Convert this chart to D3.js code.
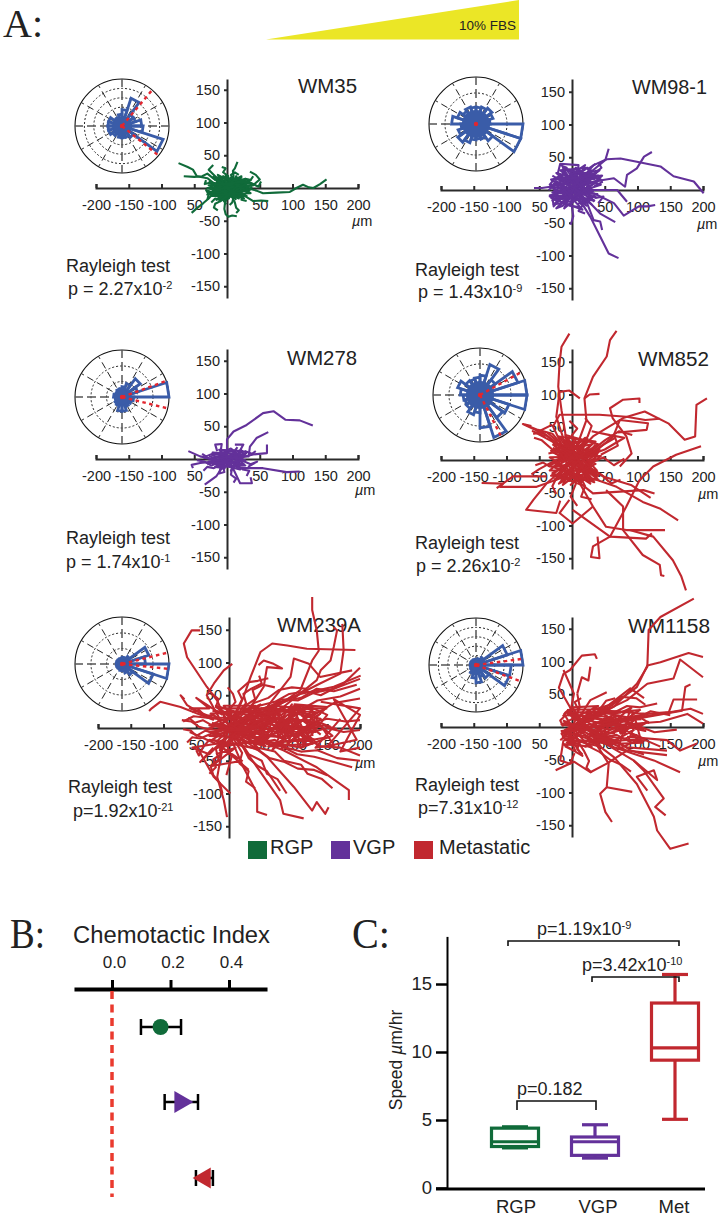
<!DOCTYPE html>
<html><head><meta charset="utf-8">
<script src="https://cdn.jsdelivr.net/npm/d3@7"></script>
<style>html,body{margin:0;padding:0;background:#fff}svg{display:block}text{font-family:"Liberation Sans",sans-serif;fill:#222}</style>
</head><body><svg id="c" width="720" height="1223"></svg>
<script>
// ---- data: cell tracks in micrometres, flat x,y lists ----
const wm35Tracks=[
[0,0,15,-2,30,0,45,-4,55,-8,75,-7,96,-6,106,0,116,5,125,1,132,0,142,6,152,13],
[0,0,-10,4,-21,8,-30,15,-46,18,-52,28,-60,32,-74,38],
[0,0,-8,8,-20,14,-30,22,-38,18,-50,17,-66,18],
[0,0,-12,-4,-21,-8,-28,-16,-36,-23,-45,-30,-54,-38],
[0,0,2,-12,-3,-22,-4,-32,-2,-40,2,-44,8,-42,15,-43],
[0,0,12,-4,20,-8,30,-14,40,-20,52,-19,63,-20],
[0,0,6,8,10,18,9,26,12,30,16,40],
[0,0,-6,6,-13,13,-20,20,-28,28,-24,32,-21,35],
[0,0,14,3,30,3,42,6,50,13,44,20,35,25],
[0,0,20,4,36,8,48,2,52,10],
[0,0,-14,-2,-24,-6,-32,-3,-28,-10,-30,-18],
[0,0,-5,-10,-10,-20,-18,-24,-20,-30,-14,-34],
[0,0,6,-10,12,-22,14,-30,18,-34,14,-38],
[0,0,10,8,22,6,28,14,36,12,40,18],
[0,0,-4,10,2,18,-6,24,-2,30,-8,32],
[0,0,-12,6,-18,2,-26,8,-34,6,-32,12],
[0,0,8,-6,18,-4,26,-10,22,-18,30,-20],
[0,0,-6,-6,-14,-10,-10,-18,-18,-16,-24,-22],
[0,0,4,4,12,-2,18,6,26,2,34,-4,38,2],
[0,0,-3,6,-10,2,-8,10,-16,8,-14,16,-20,12],
[0,0,5,-5,2,-12,10,-14,8,-22,4,-26],
[0,0,-8,-2,-14,4,-20,-2,-24,-8,-18,-12],
[0,0,6,6,2,12,10,14,6,20,12,24,18,20],
[4,2,-2,-4,6,-8,-4,-12,3,-16,-6,-18,-1,-25],
[-10,-8,-2,2,-14,6,-4,10,-16,12,-6,16,2,12,8,18],
[-20,-6,-8,2,-18,-12,-6,-4,-12,-18,4,-8,-2,-16,8,-12,14,-16],
[22,-6,10,2,24,8,14,-4,28,-4,18,10,6,-4,16,-12,24,-12],
[-24,2,-12,-6,-22,8,-8,4,-16,-10,4,6,-4,-6,12,10,2,-10,18,2],
[30,6,16,14,8,4,22,16,4,10,14,-8,26,12,32,-6,20,-14],
[-18,14,-6,8,-12,18,2,4,-2,20,8,8,14,18,20,8,30,14],
[-28,10,30,-12,-24,-12,36,12,-20,16,26,-16,-30,0,40,4,-16,-18,22,18,-26,-8,32,-4,-14,20,14,-18],
[-22,18,18,-16,-28,4,34,10,-10,-20,28,14,-30,-10,36,-8,-6,18,10,-14]
];
const wm98Tracks=[
[0,0,12,14,33,38,53,47,74,48,99,43,135,36,155,21,186,13,201,-5],
[0,0,33,13,64,18,81,5,84,23,99,33,110,51,122,58],
[0,0,10,10,33,31,51,46,56,63],
[0,0,18,-25,28,-41,43,-71,56,-97,71,-104],
[0,0,23,-15,43,-36,66,-49],
[0,0,23,-20,33,-46,43,-48,46,-61],
[0,0,33,-5,64,-20,79,-39,102,-25,115,-25,127,-23],
[0,0,-1,-20,2,-40,-2,-53],
[0,0,-18,3,-33,5,-46,3,-58,3],
[-13,15,8,25,10,38,-18,40,-22,24],
[0,0,-14,-8,-30,-10,-28,-25,-18,-14],
[0,0,22,0,43,0,69,0,84,-18],
[0,0,14,6,28,16,38,28,45,34,40,42],
[0,0,20,8,32,20,24,32,36,40],
[0,0,-8,12,-16,22,-26,18,-34,8,-20,6],
[0,0,8,-14,16,-24,10,-32,20,-36],
[0,0,-6,-12,-16,-20,-24,-28,-14,-24,-8,-18],
[0,0,24,-6,36,-12,48,-10,40,-20],
[0,0,-16,-4,-30,4,-22,-6,-34,-8,-24,-16],
[0,0,-6,14,-14,30,-8,34,-18,38],
[0,0,4,18,-2,26,6,34,10,24,16,30],
[0,0,12,4,24,14,38,22,46,12,34,6],
[-20,10,-2,-2,-24,-4,0,6,-20,-14,4,-12,-14,8,10,14,-8,18],
[30,10,2,16,22,-4,6,24,18,-16,-6,-8,14,12,28,-12,8,-22],
[-26,-20,-6,-6,-18,4,6,-4,-10,14,14,4,26,20,6,-14,-4,-24,12,-26],
[36,16,14,22,24,6,8,-10,32,-2,12,30,-4,20,-12,28,-20,14],
[-34,6,40,22,-30,-16,44,8,-24,26,30,-22,-32,16,42,30,-28,-22,36,-10,-18,30,24,34,-30,-4,40,-6],
[-30,22,34,-16,-34,-10,30,30,-20,-24,44,16,-14,34,22,-24,-28,10,38,26],
[-36,0,20,38,-12,-28,46,22,-26,16,16,-30,-32,-12,28,24,-8,30,34,-18]
];
const wm278Tracks=[
[0,0,0,30,10,42,30,52,55,70,71,73,89,60,111,59,131,51],
[0,0,20,4,33,4,35,19,45,32,63,41],
[0,0,20,2,40,7,61,9,61,22],
[0,0,20,-14,55,-14,91,-20,111,-19],
[0,0,-6,-11,-16,-26,-34,-39],
[0,0,-16,-1,-41,4,-59,12],
[0,0,-20,-4,-41,-6,-54,-9,-52,-14],
[0,0,-11,4,-8,23,-18,22,-15,12],
[0,0,10,-16,20,-37,38,-37,36,-28],
[0,0,15,4,25,22,12,22],
[0,0,-14,-6,-24,-10,-34,-4,-46,-2],
[0,0,-8,-8,-20,-14,-30,-12,-36,-18],
[0,0,14,-8,24,-16,34,-18,30,-26],
[0,0,16,8,28,12,38,8,44,12],
[0,0,8,-12,6,-24,14,-30,10,-36],
[0,0,-6,-10,-4,-20,-12,-22,-10,-14],
[0,0,-12,6,-22,8,-32,4,-38,8],
[0,0,22,-2,36,-8,46,-4,32,-12],
[-22,2,-2,6,-16,-6,6,-8,-8,10,12,12,4,-12,18,-6,8,6],
[20,8,0,-8,14,-12,24,2,6,16,-4,12,12,4,26,-8,-10,-4],
[-30,-8,-12,-2,-26,4,-6,-6,-18,-12,-2,-14],
[-24,6,28,-10,-18,-12,24,12,-12,14,20,-16,-28,-4,26,4,-10,-16,16,18],
[-36,2,10,-6,-30,-6,14,8,-22,10,28,-2,-16,-8,30,10,6,-18,22,16]
];
const wm852Tracks=[
[-6,10,-11,46,-16,76,-21,112,-19,148,-16,173,-4,193],
[7,20,22,61,19,94,32,127,53,158,58,183,68,197],
[-9,20,-24,66,-19,104,-4,106,12,94],
[19,94,27,100,42,101],
[7,10,32,36,78,64,111,74,147,56,172,31,188,36,190,84,206,94],
[73,-10,91,10,83,36,62,64,58,79,78,92,103,94,103,87],
[-9,10,-29,51,-19,69,42,69,83,66,112,61,134,63],
[32,10,63,36,73,61,116,56,114,46,70,42],
[-9,15,-39,38,-75,55,-62,52],
[0,5,-30,40,-52,46,-72,54],
[7,0,50,16,80,34,58,38,30,44],
[39,-117,42,-150,29,-148,32,-132,58,-117,83,-71,103,-31,124,-10,159,8,197,21],
[-9,-25,-54,-41,-110,-41,-105,-36,-138,-35],
[-39,-25,-90,-25,-115,-43],
[-9,-10,-39,-36,-59,-61,-70,-76,-24,-81,-18,-62],
[7,-31,32,-51,109,-46,126,-51],
[22,-25,68,-41,108,-64,134,-74,162,-92],
[12,-36,32,-71,52,-102,83,-107,119,-107,142,-107],
[88,-107,124,-117,154,-153,167,-178,174,-199],
[52,-46,78,-71,78,-107,108,-145,134,-160,136,-176,141,-177],
[1,-76,58,-117,113,-120,122,-112],
[32,-71,1,-97,-19,-81,-4,-61],
[0,0,22,-8,50,-26,90,-38,120,-58],
[0,0,14,10,30,14,50,30,72,44,92,38],
[0,0,24,6,42,20,66,34,70,22,44,8],
[0,0,-14,8,-30,16,-46,30,-58,34],
[0,0,-20,2,-32,-4,-50,-14,-62,-22],
[0,0,-10,-14,-22,-24,-30,-40,-24,-52],
[0,0,2,-20,6,-36,-2,-56,8,-70],
[0,0,10,-20,20,-40,14,-56,30,-60],
[0,0,4,20,0,38,8,48,-4,60],
[0,0,12,18,24,36,30,52,20,64],
[0,0,30,-4,48,4,64,-8,80,2],
[0,0,26,-12,44,-22,60,-36,74,-30],
[0,0,-18,14,-24,30,-38,42],
[0,0,-14,-10,-34,-10,-44,-4,-56,-8],
[-30,12,4,-6,-26,-10,8,8,-22,-24,12,-14,-14,22,18,20,-6,-32,22,-30],
[30,-20,-4,14,26,6,-10,-20,34,-30,6,-30,-18,-14,24,14,-8,26,10,28],
[-34,-6,-4,4,-28,18,10,-2,-16,-30,16,-22,-2,-38,28,-14,38,-26,10,-8],
[36,24,8,-14,30,14,-4,-6,20,26,2,18,-20,8,18,-8,36,4,6,-24],
[-20,26,-2,-8,-12,30,12,12,4,32,20,-4,40,12,14,-34,-8,-20,-28,-30],
[-30,24,40,-30,-32,-24,36,28,-20,36,28,-36,-34,4,44,6,-14,-38,20,34,-34,-16,38,-16,-8,34,12,-36],
[-26,30,34,-34,-36,-8,42,16,-24,-30,24,32,-32,14,40,-24,-16,34,30,-28],
[-36,10,30,24,-20,-36,36,-6,-28,26,14,-38,-30,-20,40,24,-10,38,26,-32],
[0,10,-30,28,-60,44,-40,36],
[5,0,-24,24,-44,42,-58,40,-30,54]
];
const wm239Tracks=[
[7,7,58,22,109,58,127,103,137,118,134,149,127,180,127,200],
[7,2,83,32,134,73,140,88,155,103,160,124,165,149,160,154],
[0,0,58,27,139,68,170,83,175,119,173,159],
[7,12,22,47,33,78,48,116,66,129,89,126,119,121,193,119],
[-3,7,-18,42,-34,63,-64,108,-69,129,-57,149,-44,149],
[-13,12,-34,50,-23,68,-8,88,5,98],
[30,27,53,63,58,93,81,91,68,98,53,103,45,96],
[58,32,94,78,99,106,122,98,139,78,188,88],
[33,22,109,52,160,63,201,80],
[-23,12,-74,32,-105,40,-118,30,-122,26],
[-34,17,-64,35,-74,50,-68,44],
[7,-4,83,-34,134,-60,183,-95,183,-110],
[17,-14,58,-44,99,-90,127,-126,134,-113,147,-131,152,-121],
[7,-9,43,-60,78,-110,83,-131,114,-138],
[2,-14,22,-60,43,-100,43,-128,58,-133],
[-8,-19,-18,-75,-8,-110,-3,-136],
[-49,-29,-23,-75,2,-100],
[0,0,20,8,42,5,60,16,85,12,105,24,130,20,160,38,200,45],
[0,0,25,-4,48,3,70,-6,95,2,120,-8,150,0,175,-6,200,-3],
[0,0,18,12,40,20,62,18,88,32,110,28,135,42,170,48,200,60],
[0,0,22,-10,44,-14,66,-10,90,-20,118,-16,140,-28,170,-30,200,-42],
[0,0,30,6,52,12,78,8,100,14,125,8,150,14,178,10,200,12],
[0,0,15,4,35,-2,55,4,75,-4,100,4,122,-2,145,4,165,-2],
[0,0,12,-8,30,-18,48,-22,70,-18,88,-30,110,-36,135,-34,165,-46,200,-50],
[0,0,20,14,38,26,60,30,80,44,105,42,130,54,160,60,200,75],
[0,0,26,18,46,34,70,40,92,52,118,56,140,50,175,68,200,92],
[0,0,16,-14,28,-28,46,-34,62,-46,85,-52,105,-62,130,-64,150,-72],
[0,0,10,-16,22,-30,30,-46,44,-58,58,-66,70,-84,78,-96],
[0,0,34,2,60,-2,84,6,110,-2,134,10,155,2],
[0,0,28,10,55,22,80,20,100,34,128,30,150,30],
[0,0,32,-6,56,-12,82,-14,104,-8,128,-18,150,-14],
[0,0,24,-2,40,10,65,6,90,-8,112,12,140,-10],
[10,0,40,-10,60,12,85,-14,95,18,120,-18,125,14,140,22],
[20,14,45,-8,70,20,75,-12,105,10,90,-22,130,2,110,20],
[5,-6,30,16,50,-14,65,24,80,-2,100,26,115,-6,135,-24],
[10,8,35,22,55,-18,72,28,92,-16,108,32,128,-12],
[-5,4,15,-12,35,12,50,-6,68,14,86,-10,100,6,118,-22],
[0,0,-12,6,-26,4,-40,12,-52,8,-62,16],
[0,0,-10,-4,-22,-8,-36,-4,-50,-12,-58,-4,-70,-2],
[0,0,-14,10,-24,20,-36,18,-46,28,-56,24],
[0,0,-8,-10,-18,-20,-30,-18,-40,-30,-46,-42,-50,-34],
[0,0,-4,12,-10,26,-20,32,-16,44,-26,52],
[0,0,-6,-14,-14,-26,-12,-40,-24,-48,-20,-60,-30,-70],
[0,0,4,14,2,30,10,40,6,52,-2,62],
[0,0,2,-14,-2,-30,4,-44,0,-58,-4,-72],
[0,0,-16,-2,-30,-10,-44,-16,-56,-14,-64,-22],
[0,0,-18,6,-32,-2,-46,2,-58,10,-72,12],
[0,0,10,12,18,28,26,38,22,52,34,60,50,68,46,80],
[0,0,14,18,28,36,40,44,36,58,52,66,70,62],
[0,0,8,20,20,44,14,56,30,70,44,72,60,76],
[0,0,24,24,38,38,60,46,76,58,96,62,118,60],
[0,0,30,20,52,30,70,34,90,42,110,46,134,60,160,56,195,66],
[0,0,8,-18,20,-38,16,-54,30,-66,26,-82,40,-92],
[0,0,18,-22,30,-40,50,-50,58,-70,74,-78,88,-100],
[0,0,26,-14,44,-30,70,-36,84,-50,110,-56,120,-70,142,-78,158,-92],
[0,0,34,-12,58,-24,80,-28,104,-40,130,-44,160,-52,188,-60],
[0,0,-6,-20,-20,-32,-16,-48,-28,-58,-24,-72,-14,-84,-10,-100],
[-26,8,62,-22,-20,-24,66,22,-24,26,60,6,-30,-6,56,-28,-16,30,50,30,-26,-18,44,-32,-8,34,40,34,-30,4,58,-10],
[-22,16,64,14,-18,-30,60,-16,-30,-12,66,8,-20,34,54,-24,-28,22,62,26,-14,-34,48,36,-32,-2,60,-6],
[30,28,130,-18,40,-24,135,24,50,30,128,-24,60,-28,138,6,44,-14,120,30,56,22,132,-6,48,8,125,12],
[36,-30,100,30,66,-34,128,28,70,34,110,-30,56,-20,96,36,80,-32,140,14,64,30,118,-28],
[90,-24,150,32,100,36,158,-12,110,-30,150,20,120,34,160,-26,132,-30,170,14],
[140,40,200,30,150,-28,195,-18,160,44,200,20,170,-36,200,-30],
[-20,-40,10,-30,-26,-58,20,-50,-10,-30,30,-64],
[-10,20,-50,46,-30,30,-60,30,-20,14,-54,18,-70,10],
[-60,-6,-20,-24,-56,-30,-30,-40,-10,-20,-44,-52,-24,-30]
];
const wm1158Tracks=[
[0,0,30,12,64,31,99,66,115,92,117,148,135,168,186,196],
[8,5,58,31,99,61,115,94,135,99,178,113,200,107],
[30,15,84,41,115,66,155,74,165,103,200,76],
[33,5,115,20,148,23,155,42,191,42],
[84,10,168,25,173,61,181,65],
[40,5,135,20,181,28,200,20],
[30,0,135,8,176,20,200,5],
[38,104,35,111,15,109,-3,87,-13,81,-20,60,-3,30,4,10],
[-3,20,3,51,-13,87],
[8,51,15,76,25,71,28,92],
[8,51,12,30,2,10],
[84,-15,145,-20,165,-36,191,-25],
[23,-5,84,-31,145,-36],
[30,-10,84,-36,145,-43],
[23,-10,64,-31,125,-51,165,-69],
[23,-15,64,-46,99,-87,125,-137,130,-158,150,-186,178,-178],
[33,-15,94,-51,109,-66,140,-109,127,-122,143,-135],
[94,-51,130,-81,125,-66,99,-76,115,-97],
[33,-20,56,-56,53,-92,43,-102,51,-130,61,-145],
[53,-92,92,-99],
[-25,-66,3,-53,28,-69,53,-56,84,-36],
[-13,-20,-18,-51,-3,-56,4,-40],
[8,10,28,41,53,53],
[13,8,53,31,89,59,110,44],
[0,0,22,10,46,6,70,18,96,12,120,24,150,18],
[0,0,26,-2,50,4,74,-6,100,2,126,-8,160,-4],
[0,0,18,14,40,22,60,20,84,32,104,30,130,36],
[0,0,24,-10,46,-16,68,-12,92,-24,112,-20,135,-30],
[0,0,30,4,54,12,80,8,102,16,118,6],
[0,0,14,-8,32,-20,52,-26,72,-24,90,-36,110,-42],
[0,0,20,16,38,28,58,34,76,46,98,44,112,34],
[0,0,12,-14,26,-30,42,-38,58,-50,76,-58,90,-68],
[0,0,8,-20,18,-36,26,-52,22,-62,30,-70],
[0,0,34,0,60,-4,84,4,106,-2],
[0,0,28,10,52,22,74,22,92,30],
[0,0,32,-6,54,-14,80,-18,100,-12],
[0,0,24,20,40,24,52,40,66,44],
[10,0,38,-8,58,10,80,-10,96,14,104,-16],
[18,12,42,-6,66,16,74,-10,98,6,86,-20],
[4,-6,28,14,48,-12,62,20,78,-4,94,22],
[0,0,-8,6,-14,2,-18,10,-10,18],
[0,0,-10,-4,-16,-10,-12,-16,-18,-20],
[0,0,-4,-10,-2,-18,-6,-26,2,-28],
[0,0,-6,10,-12,20,-6,26,-14,16],
[0,0,6,12,10,26,4,38,14,44],
[0,0,4,-12,12,-22,8,-34,16,-42],
[-10,8,4,-6,-12,-6,8,6,-14,-14,6,-16,-6,-24,10,-26],
[-14,10,70,-22,-12,-20,74,24,-10,22,68,6,-16,-6,60,-28,-6,26,52,28,-14,-16,44,-30,0,30,40,32,-16,4,66,-10],
[20,22,110,-18,30,-24,114,20,40,26,108,-24,56,-26,116,8,44,-14,104,26,60,22,112,-6,48,8,106,12],
[-12,18,54,16,-8,-24,60,-18,-14,-10,72,8,-6,20,50,-20,20,-30,90,30,70,-34,100,-20],
[-16,-6,30,-30,-14,-26,16,-44,-6,-12,6,-38,-10,-30,4,-20]
];
const rose35=[.42,.3,.3,.62,.35,.25,.2,.2,.3,.3,.3,.3,.25,.2,.25,.25,.25,.3,.92,.45];
const rose98=[.3,.38,.42,.38,.36,.36,.38,.34,.42,.52,.32,.4,.48,.42,.34,.32,.34,.44,1,1];
const rose278=[1,.35,.48,.3,.22,.18,.18,.15,.15,.18,.15,.14,.18,.2,.3,.3,.22,.2,.22,.25];
const rose852=[1,.85,.4,.68,.42,.38,.36,.38,.5,.42,.36,.34,.36,.44,.38,.7,.95,.6,.65,1];
const rose239=[.5,.6,.2,.14,.14,.12,.12,.12,.12,.12,.12,.12,.12,.12,.14,.14,.2,.28,.7,1];
const rose1158=[1,.7,.2,.14,.12,.12,.12,.12,.12,.12,.12,.12,.14,.2,.28,.38,.26,.34,.75,.75];
const meanCI35=[50,-39], meanCI278=[20,-14], meanCI852=[29,-63], meanCI239=[14,-6], meanCI1158=[7.5,-20], meanCI98=[];
const xTicks=[-200,-150,-100,-50,50,100,150,200];
const xTickLabels=["-200","-150","-100","50","50","100","150","200"];
const yTicks=[150,100,50,-50,-100,-150];
const legendNames=["RGP","VGP","Metastatic"];
const ciGroups=["RGP","VGP","Metastatic"];
const ciMean=[.166,.235,.317];
const ciLow=[.099,.18,.287];
const ciHigh=[.236,.294,.345];
const ciTicks=[0,.2,.4];
const speedCats=["RGP","VGP","Met"];
const speedWhiskerLow=[2.95,2.2,5.05];
const speedQ1=[3.05,2.4,9.4];
const speedMedian=[3.4,3.4,10.3];
const speedQ3=[4.4,3.75,13.6];
const speedWhiskerHigh=[4.5,4.65,15.7];
const speedTicks=[0,5,10,15];

// ---- drawing ----
const GREEN="#106b3a",PURPLE="#63319a",RED="#c1282f",BLUE="#3a5ca8";
const svg=d3.select("#c");
const sc=131/200;
function txt(g,x,y,s,size,o={}){
  const t=g.append("text").attr("x",x).attr("y",y).attr("font-size",size).text(s);
  if(o.anchor)t.attr("text-anchor",o.anchor);
  if(o.family)t.style("font-family",o.family);
  if(o.len)t.attr("textLength",o.len).attr("lengthAdjust","spacingAndGlyphs");
  if(o.color)t.style("fill",o.color);
  return t;
}
function sup(g,x,y,base,exp,size,supSize){
  const t=g.append("text").attr("x",x).attr("y",y).attr("font-size",size);
  t.append("tspan").text(base);
  t.append("tspan").attr("dy",-size*.36).attr("font-size",supSize).text(exp);
  return t;
}
const line=d3.line().curve(d3.curveLinear);
function panel(p){
  const g=svg.append("g");
  const x=d3.scaleLinear().domain([-200,200]).range([p.cx-200*sc,p.cx+200*sc]);
  const base=d3.scaleLinear().domain([0,1]).range([p.cy,p.cy-sc]);
  const y=d3.scaleLinear().domain([base.invert(p.bottom),base.invert(p.top)]).range([p.bottom,p.top]);
  const ax=g.append("g").attr("transform",`translate(0,${p.cy})`)
    .call(d3.axisBottom(x).tickValues(xTicks).tickSizeInner(-4).tickSizeOuter(-4).tickFormat((d,i)=>xTickLabels[i]));
  ax.selectAll("text").attr("y",12).attr("font-size",14.5).style("font-family",'"Liberation Sans"');
  const ay=g.append("g").attr("transform",`translate(${p.cx},0)`)
    .call(d3.axisLeft(y).tickValues(yTicks).tickSizeInner(3).tickSizeOuter(0).tickFormat(d=>d));
  ay.selectAll("text").attr("x",-7).attr("font-size",14.5).style("font-family",'"Liberation Sans"');
  [ax,ay].forEach(a=>{a.selectAll("path,line").attr("stroke","#2b2b2b").attr("stroke-width",2);a.selectAll("text").style("fill","#222")});
  txt(g,p.tx,p.ty,p.name,20.5,{len:p.tw});
  txt(g,p.rx,p.ry,"Rayleigh test",18);
  sup(g,p.px,p.py,p.p,p.e,18,11);
  const um=g.append("text").attr("x",p.ux).attr("y",p.uy).attr("font-size",14.5);
  um.append("tspan").style("font-style","italic").text("\u00b5");
  um.append("tspan").text("m");
  // tracks
  const tg=g.append("g").attr("fill","none").attr("stroke",p.color).attr("stroke-width",2.1).attr("stroke-linejoin","round");
  p.tracks.forEach(t=>{
    const pts=d3.range(0,t.length,2).map(i=>[x(t[i]),y(t[i+1])]);
    tg.append("path").attr("d",line(pts));
  });
  // polar inset
  const R=47,rs=d3.scaleLinear().domain([0,1]).range([0,R]);
  const pg=g.append("g").attr("transform",`translate(${p.pcx},${p.pcy})`);
  pg.append("circle").attr("r",R).attr("fill","#fff").attr("stroke","#111").attr("stroke-width",1.1);
  p.rings.forEach(r=>pg.append("circle").attr("r",rs(r)).attr("fill","none").attr("stroke","#222").attr("stroke-width",1).attr("stroke-dasharray","2,2"));
  d3.range(0,360,30).forEach(a=>{
    const c=Math.cos(a*Math.PI/180),s=Math.sin(a*Math.PI/180);
    pg.append("line").attr("x2",R*c).attr("y2",-R*s).attr("stroke",a%90==0?"#555":"#222")
      .attr("stroke-width",a%90==0?1.5:1).attr("stroke-dasharray",a%90==0?"9,4":"7,4");
  });
  const bin=d3.lineRadial().curve(d3.curveLinearClosed);
  p.rose.forEach((v,i)=>{
    const a0=Math.PI/2-i*18*Math.PI/180,a1=Math.PI/2-(i+1)*18*Math.PI/180;
    pg.append("path").attr("d",bin([[a0,0],[a0,rs(v)],[a1,rs(v)]])).attr("fill","none")
      .attr("stroke",BLUE).attr("stroke-width",2.8).attr("stroke-linejoin","miter");
  });
  pg.append("circle").attr("r",rs(p.core)).attr("fill",BLUE);
  p.ci.forEach(a=>pg.append("line").attr("x2",rs(.97)*Math.cos(a*Math.PI/180)).attr("y2",-rs(.97)*Math.sin(a*Math.PI/180))
     .attr("stroke","#e2262f").attr("stroke-width",2.4).attr("stroke-dasharray","3.5,3.5"));
  pg.append("circle").attr("r",2.2).attr("fill","#e2262f");
}
const layout=[
 {name:"WM35",tw:59,tracks:wm35Tracks,rose:rose35,ci:meanCI35,color:GREEN,cx:227,cy:188,top:79,bottom:298,tx:298,ty:93,rx:66,ry:272,px:68,py:295,p:"p = 2.27x10",e:"-2",ux:352,uy:226,pcx:122,pcy:126,rings:[.2,.4,.6,.8],core:.2},
 {name:"WM98-1",tw:75,tracks:wm98Tracks,rose:rose98,ci:meanCI98,color:PURPLE,cx:572,cy:190,top:79,bottom:300,tx:632,ty:94,rx:415,ry:276,px:418,py:298,p:"p = 1.43x10",e:"-9",ux:697,uy:229,pcx:476,pcy:124,rings:[.66],core:.3},
 {name:"WM278",tw:70,tracks:wm278Tracks,rose:rose278,ci:meanCI278,color:PURPLE,cx:227,cy:459,top:349,bottom:569,tx:287,ty:365,rx:66,ry:544,px:66,py:568,p:"p = 1.74x10",e:"-1",ux:355,uy:495,pcx:122,pcy:397,rings:[.33,.66],core:.16},
 {name:"WM852",tw:71,tracks:wm852Tracks,rose:rose852,ci:meanCI852,color:RED,cx:572,cy:460,top:349,bottom:569,tx:638,ty:366,rx:415,ry:549,px:416,py:572,p:"p = 2.26x10",e:"-2",ux:698,uy:499,pcx:480,pcy:395,rings:[.66],core:.3},
 {name:"WM239A",tw:84,tracks:wm239Tracks,rose:rose239,ci:meanCI239,color:RED,cx:229,cy:728,top:617,bottom:838,tx:277,ty:632,rx:68,ry:793,px:73,py:817,p:"p=1.92x10",e:"-21",ux:355,uy:768,pcx:122,pcy:664,rings:[.33,.66],core:.1},
 {name:"WM1158",tw:82,tracks:wm1158Tracks,rose:rose1158,ci:meanCI1158,color:RED,cx:572,cy:727,top:617,bottom:837,tx:628,ty:633,rx:415,ry:791,px:418,py:814,p:"p=7.31x10",e:"-12",ux:698,uy:766,pcx:476,pcy:665,rings:[.2,.4,.6,.8],core:.11}
];
// panel letters and FBS wedge
const SERIF='"Liberation Serif",serif';
txt(svg,3,36.5,"A:",40,{family:SERIF,len:40});
txt(svg,10,948,"B:",43,{family:SERIF,len:35});
txt(svg,352,948,"C:",43,{family:SERIF,len:38});
svg.append("polygon").attr("points","266,39.5 519,0 519,39.5").attr("fill","#ebe626");
txt(svg,459,30,"10% FBS",12.5,{len:57});
layout.forEach(panel);
// legend
[[248,GREEN,270],[331,PURPLE,353],[414,RED,439]].forEach((l,i)=>{
  svg.append("rect").attr("x",l[0]).attr("y",841).attr("width",19).attr("height",18).attr("fill",l[1]);
  txt(svg,l[2],854,legendNames[i],20);
});
// Panel B
const bx=d3.scaleLinear().domain([-.13,.53]).range([112-.13*292.5,112+.53*292.5]);
const bg=svg.append("g");
txt(bg,73,943,"Chemotactic Index",23,{len:197});
const bAxis=bg.append("g").attr("transform","translate(0,989)").call(d3.axisTop(bx).tickValues(ciTicks).tickSizeInner(9).tickSizeOuter(0).tickPadding(12).tickFormat(d3.format(".1f")));
bAxis.selectAll("path").attr("stroke","#000").attr("stroke-width",4);
bAxis.selectAll("line").attr("stroke","#000").attr("stroke-width",3);
bAxis.selectAll("text").attr("font-size",17).attr("dx",2).style("font-family",'"Liberation Sans"').style("fill","#222");
bg.append("line").attr("x1",bx(0)).attr("x2",bx(0)).attr("y1",991).attr("y2",1197).attr("stroke","#ea3a2e").attr("stroke-width",3.5).attr("stroke-dasharray","8,5.5");
const bRows=[1027,1102,1178],bCols=[GREEN,PURPLE,RED];
const sym=[d3.symbolCircle,d3.symbolTriangle,d3.symbolTriangle],rot=[0,90,-90],area=[200,210,190];
ciMean.forEach((m,i)=>{
  const r=bRows[i];
  bg.append("line").attr("x1",bx(ciLow[i])).attr("x2",bx(ciHigh[i])).attr("y1",r).attr("y2",r).attr("stroke","#000").attr("stroke-width",2.5);
  [ciLow[i],ciHigh[i]].forEach(v=>bg.append("line").attr("x1",bx(v)).attr("x2",bx(v)).attr("y1",r-8).attr("y2",r+8).attr("stroke","#000").attr("stroke-width",2.5));
  bg.append("path").attr("d",d3.symbol(sym[i],area[i])()).attr("fill",bCols[i])
    .attr("transform",`translate(${bx(m)},${r}) rotate(${rot[i]})`);
});
// Panel C
const cy=d3.scaleLinear().domain([0,18.5]).range([1188,1188-18.5*13.6]);
const cCenter=[515,595,675];
const cg=svg.append("g");
const cAxis=cg.append("g").attr("transform","translate(447,0)").call(d3.axisLeft(cy).tickValues(speedTicks).tickSizeInner(11).tickSizeOuter(0).tickPadding(4));
cAxis.selectAll("path").attr("stroke","#000").attr("stroke-width",2);
cAxis.selectAll("line").attr("stroke","#000").attr("stroke-width",2.5);
cAxis.selectAll("text").attr("font-size",18.5).style("font-family",'"Liberation Sans"').style("fill","#222");
cg.append("line").attr("x1",436).attr("x2",705).attr("y1",1189).attr("y2",1189).attr("stroke","#000").attr("stroke-width",3);
const yl=cg.append("text").attr("transform","translate(402,1060) rotate(-90)").attr("text-anchor","middle").attr("font-size",17.5);
yl.append("tspan").text("Speed ");yl.append("tspan").style("font-style","italic").text("\u00b5");yl.append("tspan").text("m/hr");
speedCats.forEach((n,i)=>{
  const c=cCenter[i],col=bCols[i],w=23.5;
  const st=s=>s.attr("stroke",col).attr("fill","none").attr("stroke-width",3.2);
  txt(cg,i==0?516:i==1?598:674,1213,n,18.5,{anchor:"middle"});
  st(cg.append("line")).attr("x1",c).attr("x2",c).attr("y1",cy(speedWhiskerLow[i])).attr("y2",cy(speedQ1[i]));
  st(cg.append("line")).attr("x1",c).attr("x2",c).attr("y1",cy(speedQ3[i])).attr("y2",cy(speedWhiskerHigh[i]));
  [speedWhiskerLow[i],speedWhiskerHigh[i]].forEach(v=>st(cg.append("line")).attr("x1",c-13).attr("x2",c+13).attr("y1",cy(v)).attr("y2",cy(v)));
  st(cg.append("rect")).attr("x",c-w).attr("width",2*w).attr("y",cy(speedQ3[i])).attr("height",cy(speedQ1[i])-cy(speedQ3[i]));
  st(cg.append("line")).attr("x1",c-w).attr("x2",c+w).attr("y1",cy(speedMedian[i])).attr("y2",cy(speedMedian[i]));
});
[[508,679,941,946],[592,679,977,982],[517,596,1101,1110]].forEach(b=>{
  cg.append("path").attr("d",d3.line()([[b[0],b[3]],[b[0],b[2]],[b[1],b[2]],[b[1],b[3]]])).attr("fill","none").attr("stroke","#111").attr("stroke-width",1.6);
});
sup(cg,537,935,"p=1.19x10","-9",18,11);
sup(cg,582,971,"p=3.42x10","-10",18,11);
txt(cg,517,1095,"p=0.182",18);
</script></body></html>
